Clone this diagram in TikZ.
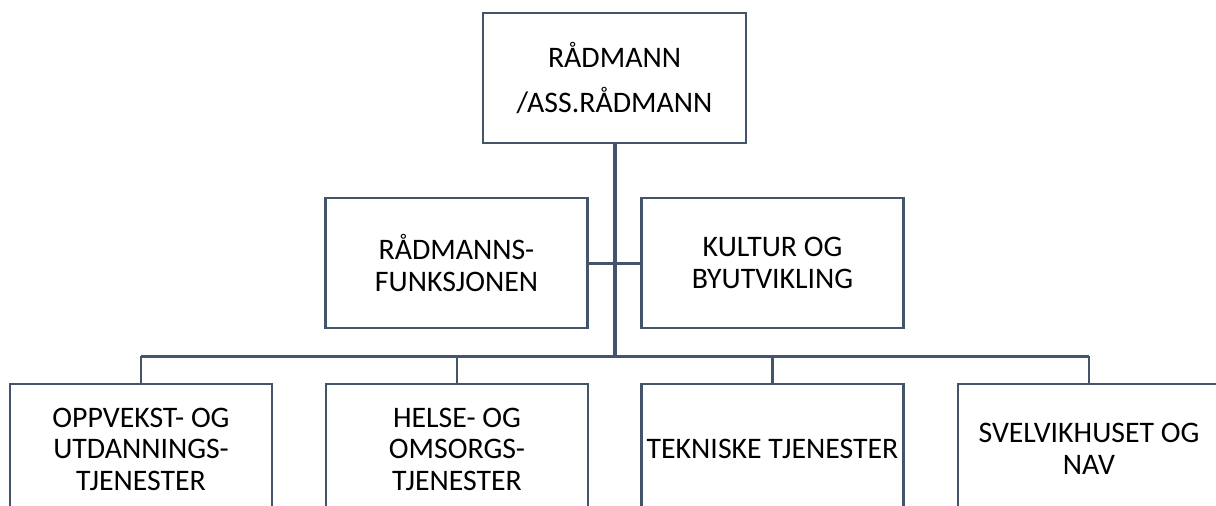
\documentclass[tikz,border=0pt]{standalone}
\usepackage{fontspec}
\setmainfont{Carlito}
\usepackage{xcolor}
\definecolor{linjefarge}{HTML}{44546A}
\usepackage{tikz}
\tikzset{
boks/.style={draw=linjefarge, line width=2.5pt, fill=white, minimum width=262pt, minimum height=130pt, inner sep=0pt, align=center, font=\fontsize{29.8}{31.5}\selectfont},
linje/.style={draw=linjefarge, line width=3pt}
}

\begin{document}
\begin{tikzpicture}[x=1pt,y=-1pt]

\useasboundingbox (0,0) rectangle (1216,506);
\clip (0,0) rectangle (1216,506);
\fill[white] (0,0) rectangle (1216,506);

% toppen
\node[boks, minimum width=263pt, font=\fontsize{29.8}{45}\selectfont] (raadmann) at (614.5,78) {RÅDMANN\\/ASS.RÅDMANN};

% stab
\node[boks] (funksjon) at (456.5,263) {RÅDMANNS-\\FUNKSJONEN};
\node[boks] (kultur) at (772.5,263) {KULTUR OG\\BYUTVIKLING};

% sektorer
\node[boks] (oppvekst) at (141,449) {OPPVEKST- OG\\UTDANNINGS-\\TJENESTER};
\node[boks] (helse) at (457,449) {HELSE- OG\\OMSORGS-\\TJENESTER};
\node[boks] (teknisk) at (772.5,449) {TEKNISKE TJENESTER};
\node[boks] (svelvik) at (1089,449) {SVELVIKHUSET OG\\NAV};

\coordinate (buss) at (614.5,356);

\draw[linje, line width=4pt] (raadmann.south) -- (raadmann.south |- buss);
\draw[linje] (funksjon.east) -- (kultur.west);
\draw[linje] (oppvekst.north |- buss) -- (svelvik.north |- buss);
\foreach \s in {oppvekst,helse,teknisk,svelvik}
\draw[linje, line width=2.5pt] (\s.north |- buss) -- (\s.north);

\end{tikzpicture}
\end{document}
